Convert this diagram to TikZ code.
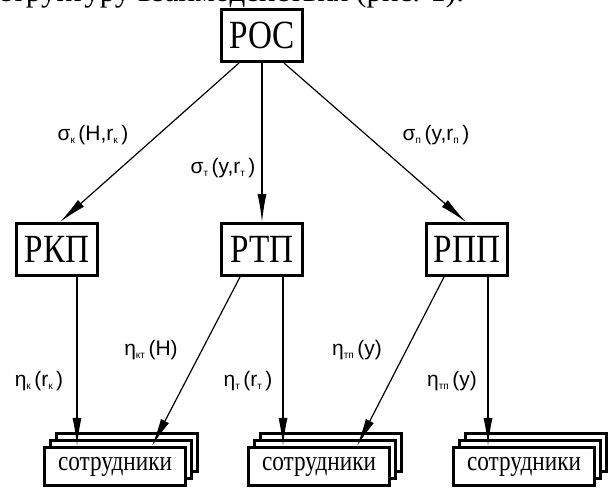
\documentclass[tikz,border=0pt]{standalone}
\usepackage{fontspec}
\setmainfont{Liberation Serif}
\newfontfamily\boxfont[FakeStretch=0.83]{Liberation Serif}
\newfontfamily\labfont{Liberation Sans}
\usetikzlibrary{arrows.meta}

% small lowered index letters
\newcommand{\idx}[1]{\raisebox{-3pt}{\fontsize{10}{10}\selectfont #1}}

\begin{document}
\begin{tikzpicture}[x=1pt,y=-1pt,
  unit/.style={draw, line width=3pt, fill=white, minimum width=81pt,
    minimum height=52pt, inner sep=0pt,
    font=\boxfont\fontsize{40}{40}\selectfont},
  staff/.style={draw, line width=2.6pt, fill=white, minimum width=141pt,
    minimum height=38.5pt, inner sep=0pt,
    font=\boxfont\fontsize{28}{28}\selectfont},
  link/.style={line width=1.2pt, -{Latex[length=28pt,width=9pt]}},
  lab/.style={font=\labfont\fontsize{21}{21}\selectfont, inner sep=0pt}]

\useasboundingbox (0,0) rectangle (612,489);

% running text line above the figure
\node[anchor=base west, inner sep=0pt, font=\fontsize{31}{31}\selectfont]
  (caption) at (-2,2) {структуру взаимодействия (рис. 1).};

% units
\node[unit] (roc) at (262,35.5)  {РОС};
\node[unit] (rkp) at (57,249.5)  {РКП};
\node[unit] (rtp) at (262,249.5) {РТП};
\node[unit] (rpp) at (467,249.5) {РПП};

% stacks of staff cards
\foreach \cx/\nm in {115/s1, 319/s2, 524/s3} {
  \node[staff] (\nm c) at (\cx+12,452.5) {};
  \node[staff] (\nm b) at (\cx+6,459.5) {};
  \node[staff] (\nm) at (\cx,466.5) {сотрудники};
}

% control links
\draw[link] ([xshift=-23pt]roc.south) -- ([xshift=3pt]rkp.north);
\draw[link] (roc.south) -- (rtp.north);
\draw[link] ([xshift=22pt]roc.south) -- ([xshift=-1pt]rpp.north);

\draw[link] ([xshift=20pt]rkp.south) -- ([xshift=-38pt]s1.north);
\draw[link] ([xshift=-22pt]rtp.south) -- ([xshift=37pt]s1.north);
\draw[link] ([xshift=21pt]rtp.south) -- ([xshift=-36pt]s2.north);
\draw[link] ([xshift=-23pt]rpp.south) -- ([xshift=38pt]s2.north);
\draw[link] ([xshift=21pt]rpp.south) -- ([xshift=-36pt]s3.north);

% link labels
\node[lab] (l1) at (93,135)  {σ\idx{к}\,(Н,r\idx{к}\,)};
\node[lab] (l2) at (223,168) {σ\idx{т}\,(y,r\idx{т}\,)};
\node[lab] (l3) at (436,135) {σ\idx{п}\,(y,r\idx{п}\,)};
\node[lab] (l4) at (39,381)  {η\idx{к}\,(r\idx{к}\,)};
\node[lab] (l5) at (151,350) {η\idx{кт}\,(Н)};
\node[lab] (l6) at (248,381) {η\idx{т}\,(r\idx{т}\,)};
\node[lab] (l7) at (357,350) {η\idx{тп}\,(y)};
\node[lab] (l8) at (452,381) {η\idx{тп}\,(y)};
\end{tikzpicture}
\end{document}
